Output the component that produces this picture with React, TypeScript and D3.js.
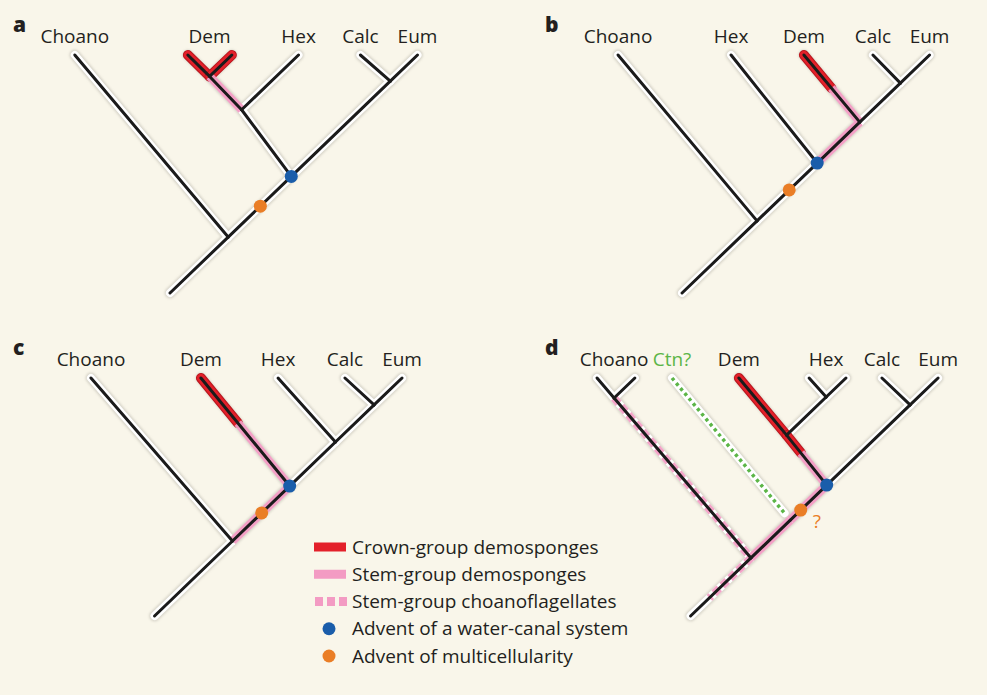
import React from "react";
import * as d3 from "d3";

type NodeDef = { id: string; parent: string; depth?: number; tip?: number };
type Highlight = { edge: string; from: number; to: number; kind: "crown" | "stem" | "stemChoano" };
type Marker = { edge: string; depth: number; kind: "water" | "multi" };
type Label = { text: string; at: string; color?: string };

// ---------- Panel a ----------
const treeA: NodeDef[] = [
  { id: "root", parent: "", depth: 100 },
  { id: "n1", parent: "root", depth: 76.5 },
  { id: "Choano", parent: "n1", tip: -40 },
  { id: "nBlue", parent: "n1", depth: 51 },
  { id: "nDH", parent: "nBlue", depth: 23 },
  { id: "nDc", parent: "nDH", depth: 9 },
  { id: "DemL", parent: "nDc", tip: 7.5 },
  { id: "DemR", parent: "nDc", tip: 26 },
  { id: "Hex", parent: "nDH", tip: 54 },
  { id: "nCE", parent: "nBlue", depth: 11 },
  { id: "Calc", parent: "nCE", tip: 80 },
  { id: "Eum", parent: "nCE", tip: 104 },
];
const highlightsA: Highlight[] = [
  { edge: "DemL", from: 0, to: 9, kind: "crown" },
  { edge: "DemR", from: 0, to: 9, kind: "crown" },
  { edge: "nDc", from: 9, to: 23, kind: "stem" },
];
const markersA: Marker[] = [
  { edge: "nBlue", depth: 51, kind: "water" },
  { edge: "nBlue", depth: 63.5, kind: "multi" },
];
const labelsA: Label[] = [
  { text: "Choano", at: "Choano" },
  { text: "Dem", at: "nDc" },
  { text: "Hex", at: "Hex" },
  { text: "Calc", at: "Calc" },
  { text: "Eum", at: "Eum" },
];

// ---------- Panel b ----------
const treeB: NodeDef[] = [
  { id: "root", parent: "", depth: 100 },
  { id: "n1", parent: "root", depth: 69.7 },
  { id: "Choano", parent: "n1", tip: -27.3 },
  { id: "nBlue", parent: "n1", depth: 45.4 },
  { id: "Hex", parent: "nBlue", tip: 20.2 },
  { id: "nD", parent: "nBlue", depth: 28.2 },
  { id: "Dem", parent: "nD", tip: 50.8 },
  { id: "nCE", parent: "nD", depth: 11.8 },
  { id: "Calc", parent: "nCE", tip: 79.8 },
  { id: "Eum", parent: "nCE", tip: 103.6 },
];
const highlightsB: Highlight[] = [
  { edge: "Dem", from: 0, to: 13.9, kind: "crown" },
  { edge: "Dem", from: 13.9, to: 28.2, kind: "stem" },
  { edge: "nD", from: 28.2, to: 45.4, kind: "stem" },
];
const markersB: Marker[] = [
  { edge: "nBlue", depth: 45.4, kind: "water" },
  { edge: "nBlue", depth: 56.7, kind: "multi" },
];
const labelsB: Label[] = [
  { text: "Choano", at: "Choano" },
  { text: "Hex", at: "Hex" },
  { text: "Dem", at: "Dem" },
  { text: "Calc", at: "Calc" },
  { text: "Eum", at: "Eum" },
];

// ---------- Panel c ----------
const treeC: NodeDef[] = [
  { id: "root", parent: "", depth: 100 },
  { id: "n1", parent: "root", depth: 68.5 },
  { id: "Choano", parent: "n1", tip: -26.9 },
  { id: "nBlue", parent: "n1", depth: 45.4 },
  { id: "Dem", parent: "nBlue", tip: 19.3 },
  { id: "nH", parent: "nBlue", depth: 26.9 },
  { id: "Hex", parent: "nH", tip: 51.7 },
  { id: "nCE", parent: "nH", depth: 11.3 },
  { id: "Calc", parent: "nCE", tip: 79.8 },
  { id: "Eum", parent: "nCE", tip: 103.8 },
];
const highlightsC: Highlight[] = [
  { edge: "Dem", from: 0, to: 18.9, kind: "crown" },
  { edge: "Dem", from: 18.9, to: 45.4, kind: "stem" },
  { edge: "nBlue", from: 45.4, to: 68.5, kind: "stem" },
];
const markersC: Marker[] = [
  { edge: "nBlue", depth: 45.4, kind: "water" },
  { edge: "nBlue", depth: 56.7, kind: "multi" },
];
const labelsC: Label[] = [
  { text: "Choano", at: "Choano" },
  { text: "Dem", at: "Dem" },
  { text: "Hex", at: "Hex" },
  { text: "Calc", at: "Calc" },
  { text: "Eum", at: "Eum" },
];

// ---------- Panel d ----------
const treeD: NodeDef[] = [
  { id: "root", parent: "", depth: 100 },
  { id: "n1", parent: "root", depth: 75.6 },
  { id: "chC", parent: "n1", depth: 8.4 },
  { id: "ChoL", parent: "chC", tip: -39.9 },
  { id: "ChoR", parent: "chC", tip: -24 },
  { id: "nCtn", parent: "n1", depth: 59.7 },
  { id: "Ctn", parent: "nCtn", tip: -8.4 },
  { id: "nBlue", parent: "nCtn", depth: 45 },
  { id: "nDH", parent: "nBlue", depth: 24 },
  { id: "Dem", parent: "nDH", tip: 19.7 },
  { id: "hexC", parent: "nDH", depth: 8 },
  { id: "HexL", parent: "hexC", tip: 49.2 },
  { id: "HexR", parent: "hexC", tip: 64.7 },
  { id: "nCE", parent: "nBlue", depth: 11.3 },
  { id: "Calc", parent: "nCE", tip: 79.8 },
  { id: "Eum", parent: "nCE", tip: 103.4 },
];
const highlightsD: Highlight[] = [
  { edge: "Dem", from: 0, to: 24, kind: "crown" },
  { edge: "nDH", from: 24, to: 31.5, kind: "crown" },
  { edge: "nDH", from: 31.5, to: 45, kind: "stem" },
  { edge: "nBlue", from: 45, to: 59.7, kind: "stem" },
  { edge: "nCtn", from: 59.7, to: 75.6, kind: "stem" },
  { edge: "chC", from: 8.4, to: 75.6, kind: "stemChoano" },
  { edge: "n1", from: 75.6, to: 92.4, kind: "stemChoano" },
];
const markersD: Marker[] = [
  { edge: "nBlue", depth: 45, kind: "water" },
  { edge: "nBlue", depth: 55.5, kind: "multi" },
];
const labelsD: Label[] = [
  { text: "Choano", at: "chC" },
  { text: "Ctn?", at: "Ctn", color: "#5cb547" },
  { text: "Dem", at: "Dem" },
  { text: "Hex", at: "hexC" },
  { text: "Calc", at: "Calc" },
  { text: "Eum", at: "Eum" },
];
const dottedEdgesD = ["Ctn"];

// ---------- Legend ----------
const legendItems = [
  "Crown-group demosponges",
  "Stem-group demosponges",
  "Stem-group choanoflagellates",
  "Advent of a water-canal system",
  "Advent of multicellularity",
];

const C = {
  bg: "#f9f6ea",
  black: "#1b1b1b",
  red: "#e3202a",
  pink: "#f39bc3",
  blue: "#1a5daa",
  orange: "#ea7e26",
  green: "#5cb547",
  text: "#231f20",
};

const K = 1.04;
const U = 2.38;

const panels = [
  { letter: "a", tree: treeA, hl: highlightsA, mk: markersA, lb: labelsA, dotted: [] as string[], rootX: 170, tipY: 55, lx: 13, ly: 32, question: false },
  { letter: "b", tree: treeB, hl: highlightsB, mk: markersB, lb: labelsB, dotted: [] as string[], rootX: 683, tipY: 55, lx: 545, ly: 32, question: false },
  { letter: "c", tree: treeC, hl: highlightsC, mk: markersC, lb: labelsC, dotted: [] as string[], rootX: 155, tipY: 378, lx: 13, ly: 355, question: false },
  { letter: "d", tree: treeD, hl: highlightsD, mk: markersD, lb: labelsD, dotted: dottedEdgesD, rootX: 692, tipY: 378, lx: 545, ly: 355, question: true },
];

type Laid = { id: string; parent: string; x: number; depth: number };

function layout(tree: NodeDef[]): Map<string, Laid> {
  const root = d3
    .stratify<NodeDef>()
    .id((d) => d.id)
    .parentId((d) => (d.parent === "" ? null : d.parent))(tree);
  const out = new Map<string, Laid>();
  root.each((n) => {
    const tips = n.leaves().map((l) => l.data.tip as number);
    const depth = n.data.tip !== undefined ? 0 : (n.data.depth as number);
    const x = n.data.tip !== undefined ? n.data.tip : (d3.max(tips) as number) - K * depth;
    out.set(n.data.id, { id: n.data.id, parent: n.data.parent, x, depth });
  });
  return out;
}

function Panel({ p }: { p: (typeof panels)[number] }) {
  const nodes = layout(p.tree);
  const xs = d3.scaleLinear().domain([0, 100]).range([p.rootX, p.rootX + 100 * U]);
  const ys = d3.scaleLinear().domain([0, 100]).range([p.tipY, p.tipY + 100 * U]);
  const edges = Array.from(nodes.values()).filter((n) => n.parent !== "");
  const pt = (edge: string, depth: number): [number, number] => {
    const c = nodes.get(edge)!;
    const par = nodes.get(c.parent)!;
    const t = (depth - c.depth) / (par.depth - c.depth);
    return [xs(c.x + t * (par.x - c.x)), ys(depth)];
  };
  const seg = (e: Laid) => {
    const par = nodes.get(e.parent)!;
    return { x1: xs(e.x), y1: ys(e.depth), x2: xs(par.x), y2: ys(par.depth) };
  };
  const solidEdges = edges.filter((e) => !p.dotted.includes(e.id));
  const dotted = edges.filter((e) => p.dotted.includes(e.id)).map((e) => {
    const s = seg(e);
    const len = Math.hypot(s.x2 - s.x1, s.y2 - s.y1);
    const f = (len - 9) / len;
    return { ...s, x2: s.x1 + (s.x2 - s.x1) * f, y2: s.y1 + (s.y2 - s.y1) * f };
  });
  return (
    <g>
      <text x={p.lx} y={p.ly} fontFamily="Open Sans" fontWeight={800} fontSize={21} fill={C.text}>
        {p.letter}
      </text>
      {/* soft grey halo */}
      <g filter="url(#blur)" opacity={0.5}>
        {[...solidEdges.map(seg), ...dotted].map((s, i) => (
          <line key={i} {...s} stroke="#b9b6ab" strokeWidth={11} strokeLinecap="round" />
        ))}
      </g>
      {[...solidEdges.map(seg), ...dotted].map((s, i) => (
        <line key={"w" + i} {...s} stroke="#ffffff" strokeWidth={8} strokeLinecap="round" />
      ))}
      {/* highlights */}
      {p.hl.map((h, i) => {
        const [x1, y1] = pt(h.edge, h.from);
        const [x2, y2] = pt(h.edge, h.to);
        if (h.kind === "crown")
          return (
            <g key={"h" + i}>
              <line x1={x1} y1={y1} x2={x2} y2={y2} stroke="#b8161d" strokeWidth={10} strokeLinecap="round" />
              <line x1={x1} y1={y1} x2={x2} y2={y2} stroke={C.red} strokeWidth={8} strokeLinecap="round" />
            </g>
          );
        if (h.kind === "stem")
          return <line key={"h" + i} x1={x1} y1={y1} x2={x2} y2={y2} stroke={C.pink} strokeWidth={8.5} opacity={0.95} />;
        return (
          <line key={"h" + i} x1={x1} y1={y1} x2={x2} y2={y2} stroke={C.pink} strokeWidth={8} strokeDasharray="7 4" opacity={0.9} />
        );
      })}
      {solidEdges.map((e) => {
        const s = seg(e);
        return <line key={"b" + e.id} {...s} stroke={C.black} strokeWidth={3} strokeLinecap="round" />;
      })}
      {dotted.map((s, i) => (
        <line key={"d" + i} {...s} stroke={C.green} strokeWidth={3.5} strokeDasharray="3.2 3.4" />
      ))}
      {p.mk.map((m, i) => {
        const [cx, cy] = pt(m.edge, m.depth);
        return <circle key={"m" + i} cx={cx} cy={cy} r={6.5} fill={m.kind === "water" ? C.blue : C.orange} />;
      })}
      {p.question &&
        p.mk
          .filter((m) => m.kind === "multi")
          .map((m, i) => {
            const [cx, cy] = pt(m.edge, m.depth);
            return (
              <text key={"q" + i} x={cx + 12} y={cy + 18} fontFamily="Open Sans" fontSize={19} fill={C.orange}>
                ?
              </text>
            );
          })}
      {p.lb.map((l, i) => {
        const n = nodes.get(l.at)!;
        return (
          <text
            key={"l" + i}
            x={xs(n.x)}
            y={p.tipY - 12}
            textAnchor="middle"
            fontFamily="Open Sans"
            fontSize={19}
            fill={l.color ?? C.text}
          >
            {l.text}
          </text>
        );
      })}
    </g>
  );
}

function Legend() {
  const y = d3.scaleLinear().domain([0, 4]).range([547, 656]);
  return (
    <g>
      <rect x={314} y={y(0) - 4.5} width={32} height={9} fill={C.red} />
      <rect x={314} y={y(1) - 4.5} width={32} height={9} fill={C.pink} />
      {[0, 1, 2].map((i) => (
        <rect key={i} x={315 + i * 12} y={y(2) - 4.5} width={8} height={9} fill={C.pink} />
      ))}
      <circle cx={329} cy={y(3)} r={6.5} fill={C.blue} />
      <circle cx={329} cy={y(4)} r={6.5} fill={C.orange} />
      {legendItems.map((t, i) => (
        <text key={t} x={352} y={y(i) + 6.5} fontFamily="Open Sans" fontSize={19} fill={C.text}>
          {t}
        </text>
      ))}
    </g>
  );
}

export default function App() {
  return (
    <svg
      width={987}
      height={695}
      style={{ position: "absolute", left: 0, top: 0, display: "block" }}
    >
      <defs>
        <filter id="blur" x="-10%" y="-10%" width="120%" height="120%">
          <feGaussianBlur stdDeviation={1.3} />
        </filter>
      </defs>
      <rect width={987} height={695} fill={C.bg} />
      {panels.map((p) => (
        <Panel key={p.letter} p={p} />
      ))}
      <Legend />
    </svg>
  );
}
